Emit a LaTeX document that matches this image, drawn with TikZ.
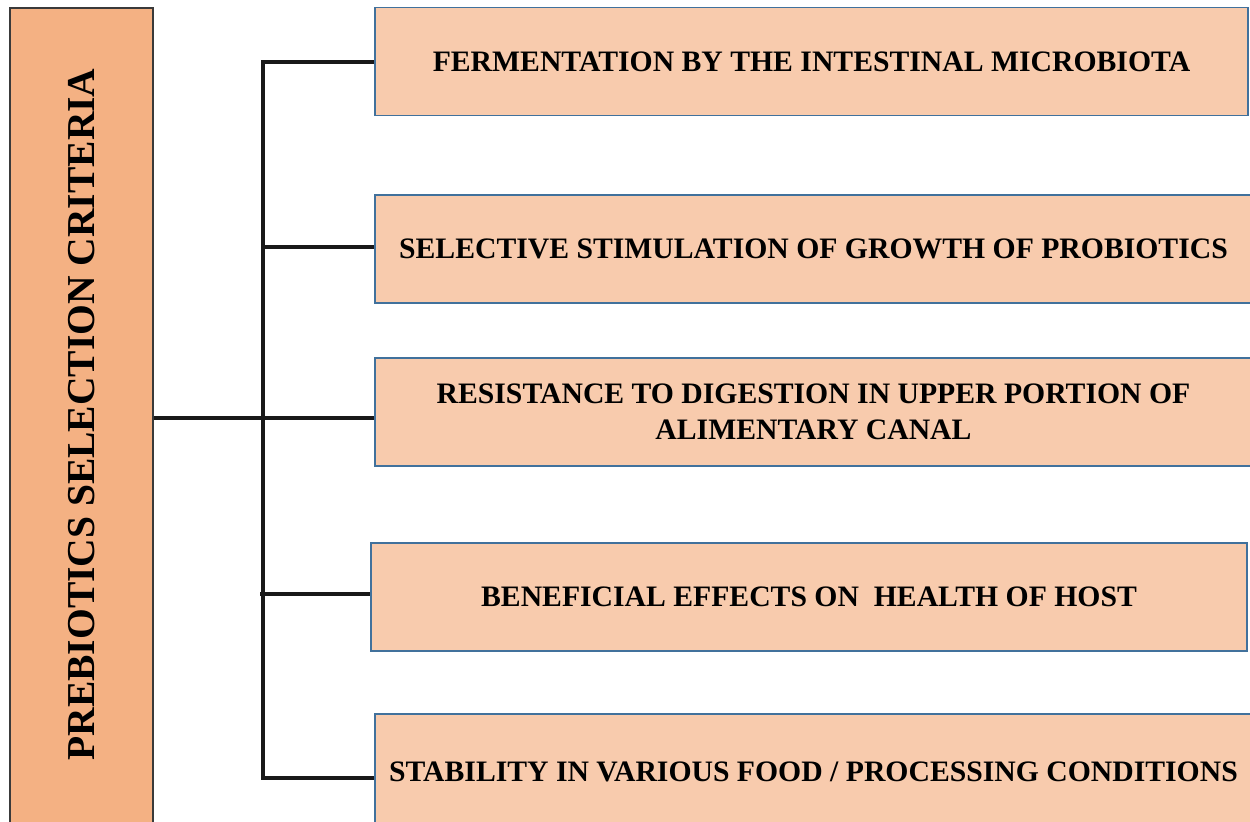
\documentclass[tikz,border=0pt]{standalone}
\usepackage{fontspec}
\setmainfont{Liberation Serif}
\usetikzlibrary{calc}
\definecolor{critfill}{HTML}{F8CBAD}
\definecolor{critedge}{HTML}{41719C}
\definecolor{mainfill}{HTML}{F4B183}
\definecolor{mainedge}{HTML}{3A3A3A}
\tikzset{
  critbox/.style={draw=critedge, fill=critfill, line width=0.8pt, inner sep=0pt,
    minimum height=2.16cm, align=center,
    font=\fontsize{16.9}{20.6}\selectfont\bfseries},
  mainbox/.style={draw=mainedge, fill=mainfill, line width=1pt, inner sep=0pt,
    minimum width=2.86cm, minimum height=16.40cm},
  wire/.style={line width=1.8pt, color=black!90}
}

\begin{document}
\begin{tikzpicture}
\useasboundingbox (0,0) rectangle (25,-16.42);
% main criteria box
\node[mainbox] (crit) at (1.63,-8.36) {};
\node[rotate=90, font=\fontsize{22.5}{26}\selectfont\bfseries] (crit_txt) at (1.63,-8.29) {PREBIOTICS SELECTION CRITERIA};
% criteria
\node[critbox, minimum width=17.46cm] (c1) at (16.23,-1.23) {FERMENTATION BY THE INTESTINAL MICROBIOTA};
\node[critbox, minimum width=17.54cm] (c2) at (16.27,-4.98) {SELECTIVE STIMULATION OF GROWTH OF PROBIOTICS};
\node[critbox, minimum width=17.54cm] (c3) at (16.27,-8.24) {RESISTANCE TO DIGESTION IN UPPER PORTION OF\\ALIMENTARY CANAL};
\node[critbox, minimum width=17.52cm] (c4) at (16.18,-11.94) {BENEFICIAL EFFECTS ON \ HEALTH OF HOST};
\node[critbox, minimum width=17.54cm, minimum height=2.3cm] (c5) at (16.27,-15.43) {STABILITY IN VARIOUS FOOD / PROCESSING CONDITIONS};
% spine
\coordinate (s1) at (5.26,-1.24);
\coordinate (s2) at (5.26,-4.94);
\coordinate (s3) at (5.26,-8.36);
\coordinate (s4) at (5.26,-11.88);
\coordinate (s5) at (5.26,-15.56);
\draw[wire] (s1 -| c1.west) -- (s1) -- (s5) -- (s5 -| c5.west);
\draw[wire] (s3 -| crit.east) -- (s3 -| c3.west);
\draw[wire] (s2) -- (s2 -| c2.west);
\draw[wire] ($(s4)+(-0.06,0)$) -- (s4 -| c4.west);
\end{tikzpicture}
\end{document}
